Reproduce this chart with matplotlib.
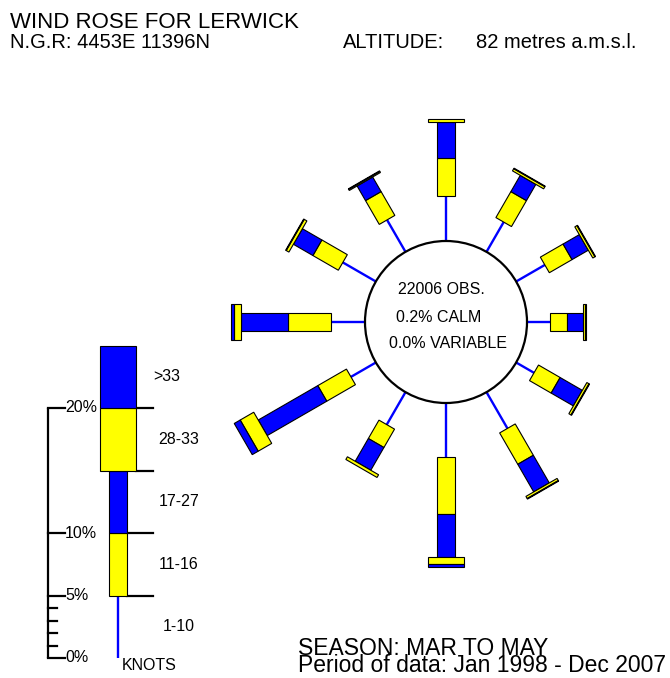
import numpy as np
import matplotlib
matplotlib.use("Agg")
import matplotlib.pyplot as plt
from matplotlib.patches import Polygon, Circle

plt.rcParams['font.family'] = ['Liberation Sans', 'DejaVu Sans']

# ---------------- data ----------------
directions_deg = [0, 30, 60, 90, 120, 150, 180, 210, 240, 270, 300, 330]
pct_1_10  = [3.6, 2.75, 2.65, 1.85, 1.65, 3.35, 4.35, 3.0, 2.3, 2.75, 3.05, 2.95]
pct_11_16 = [3.05, 2.4, 2.1, 1.35, 2.0, 2.9, 4.5, 1.7, 2.65, 3.4, 2.35, 2.2]
pct_17_27 = [2.9, 1.5, 1.5, 1.25, 2.05, 2.55, 3.5, 2.1, 5.5, 3.8, 1.8, 1.35]
pct_28_33 = [0.2, 0.2, 0.2, 0.2, 0.2, 0.2, 0.5, 0.25, 1.25, 0.55, 0.25, 0.1]
pct_gt33  = [0.0, 0.05, 0.05, 0.05, 0.05, 0.05, 0.25, 0.0, 0.55, 0.2, 0.05, 0.05]

speed_bands = ['1-10', '11-16', '17-27', '28-33', '>33']
legend_band_pct = [5, 5, 5, 5, 5]
legend_major_ticks = [0, 5, 10, 20]
legend_major_labels = ['0%', '5%', '10%', '20%']
legend_minor_ticks = [1, 2, 3, 4]

n_obs = 22006
calm_pct = 0.2
variable_pct = 0.0

# ---------------- style ----------------
BLUE = '#0000FF'
YELLOW = '#FFFF00'
SCALE = 12.5          # px per percent
CX, CY, R0 = 446, 322, 81
NARROW, WIDE = 9, 18  # half widths

fig = plt.figure(figsize=(6.7, 6.78), dpi=100)
ax = fig.add_axes([0, 0, 1, 1])
ax.set_xlim(0, 670)
ax.set_ylim(678, 0)
ax.set_aspect('equal')
ax.axis('off')


def seg(cx, cy, ang, r0, r1, hw, color):
    t = np.deg2rad(ang)
    u = np.array([np.sin(t), -np.cos(t)])
    v = np.array([np.cos(t), np.sin(t)])
    c = np.array([cx, cy])
    pts = [c + u * r0 + v * hw, c + u * r1 + v * hw,
           c + u * r1 - v * hw, c + u * r0 - v * hw]
    ax.add_patch(Polygon(pts, closed=True, facecolor=color,
                         edgecolor='black', linewidth=0.8, zorder=3))


# ---------------- rose ----------------
for i, ang in enumerate(directions_deg):
    t = np.deg2rad(ang)
    u = np.array([np.sin(t), -np.cos(t)])
    r = R0
    r1 = r + pct_1_10[i] * SCALE
    p0 = np.array([CX, CY]) + u * r
    p1 = np.array([CX, CY]) + u * r1
    ax.plot([p0[0], p1[0]], [p0[1], p1[1]], color=BLUE, lw=1.7, zorder=2,
            solid_capstyle='butt')
    r = r1
    for vals, hw, col in [(pct_11_16, NARROW, YELLOW), (pct_17_27, NARROW, BLUE),
                          (pct_28_33, WIDE, YELLOW), (pct_gt33, WIDE, BLUE)]:
        if vals[i] > 0:
            seg(CX, CY, ang, r, r + vals[i] * SCALE, hw, col)
            r += vals[i] * SCALE

ax.add_patch(Circle((CX, CY), R0, facecolor='white', edgecolor='black',
                    linewidth=1.6, zorder=4))
ax.text(CX - 5, 290, f'{n_obs} OBS.', ha='center', va='center', fontsize=11.5, zorder=5)
ax.text(CX - 7, 317, f'{calm_pct:.1f}% CALM', ha='center', va='center', fontsize=11.5, zorder=5)
ax.text(CX + 2, 343, f'{variable_pct:.1f}% VARIABLE', ha='center', va='center', fontsize=11.5, zorder=5)

# ---------------- legend ----------------
LX, LY0 = 118, 658
AX_X = 48
ax.plot([AX_X, AX_X], [LY0, LY0 - 20 * SCALE], color='black', lw=1.6,
        solid_capstyle='butt')
for tv, lab in zip(legend_major_ticks, legend_major_labels):
    y = LY0 - tv * SCALE
    ax.plot([AX_X, AX_X + 17], [y, y], color='black', lw=1.6)
    ax.text(AX_X + 17, y, lab, ha='left', va='center', fontsize=11.5)
for tv in legend_minor_ticks:
    y = LY0 - tv * SCALE
    ax.plot([AX_X, AX_X + 9], [y, y], color='black', lw=1.6)

cum = 0
hws = [0, NARROW, NARROW, WIDE, WIDE]
cols = [BLUE, YELLOW, BLUE, YELLOW, BLUE]
label_x = [179, 179, 179, 179, 167]
for k, (band, p) in enumerate(zip(speed_bands, legend_band_pct)):
    y0 = LY0 - cum * SCALE
    y1 = LY0 - (cum + p) * SCALE
    if k == 0:
        ax.plot([LX, LX], [y0, y1], color=BLUE, lw=1.7, solid_capstyle='butt')
    else:
        seg(LX, LY0, 0, cum * SCALE, (cum + p) * SCALE, hws[k], cols[k])
    if k < len(speed_bands) - 1:
        right = LX + max(hws[k], hws[k + 1])
        ax.plot([right, 153], [y1, y1], color='black', lw=1.6, zorder=1)
    ax.text(label_x[k], (y0 + y1) / 2, band, ha='center', va='center', fontsize=11.5)
    cum += p
ax.text(122, 665, 'KNOTS', ha='left', va='center', fontsize=11.5)

# ---------------- header / footer ----------------
ax.text(10, 28, 'WIND ROSE FOR LERWICK', ha='left', va='baseline', fontsize=16)
ax.text(10, 48, 'N.G.R: 4453E 11396N', ha='left', va='baseline', fontsize=14.5)
ax.text(343, 48, 'ALTITUDE:', ha='left', va='baseline', fontsize=14.5)
ax.text(637, 48, '82 metres a.m.s.l.', ha='right', va='baseline', fontsize=14.5)
ax.text(298, 672, 'SEASON: MAR TO MAY\nPeriod of data: Jan 1998 - Dec 2007',
        ha='left', va='baseline', fontsize=16.5, linespacing=0.69)

fig.savefig('out.png', dpi=100)
